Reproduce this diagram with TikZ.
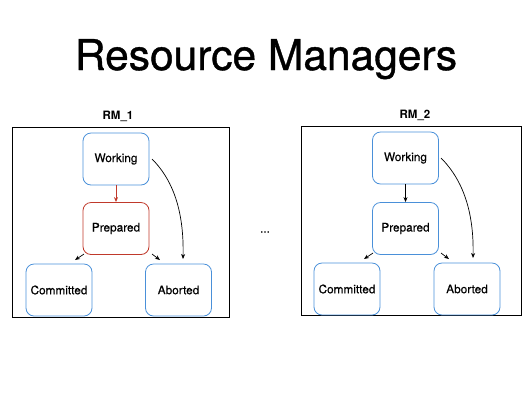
\documentclass[tikz,border=0pt]{standalone}
\usepackage{fontspec}
\setmainfont{TeX Gyre Heros}
\newfontfamily\titlefont[FakeBold=0.9]{TeX Gyre Heros}
\newfontfamily\labelfont[FakeBold=0.4]{TeX Gyre Heros}
\usetikzlibrary{arrows.meta,calc}
\definecolor{stblue}{RGB}{74,144,217}
\definecolor{stred}{RGB}{192,57,43}
\tikzset{
  state/.style={draw=stblue, line width=0.8pt, rounded corners=8pt,
    minimum width=66pt, minimum height=52pt, inner sep=0pt,
    font=\labelfont\fontsize{11.8}{14}\selectfont},
  redstate/.style={state, draw=stred},
  frame/.style={draw=black, line width=0.9pt},
  arr/.style={-{Stealth[length=5pt,width=4pt]}, line width=0.7pt},
  rmlabel/.style={font=\fontsize{11.5}{14}\selectfont\bfseries}
}
\begin{document}
\begin{tikzpicture}[x=1pt,y=-1pt]
\useasboundingbox (0,0) rectangle (532,400);
\node[anchor=base, font=\titlefont\fontsize{42.5}{50}\selectfont] (title) at (266,70) {Resource Managers};

% left RM
\draw[frame] (12,127) rectangle (229,317);
\node[rmlabel] (rm1) at (118,116) {RM\_1};
\node[state] (w1) at (116,159) {Working};
\node[redstate] (p1) at (116,228.5) {Prepared};
\node[state] (c1) at (59,290) {Committed};
\node[state] (a1) at (178.5,290) {Aborted};
\coordinate (pc1s) at (84,254);
\coordinate (pc1e) at (75,260);
\coordinate (pa1s) at (152,254);
\coordinate (pa1e) at (160,260);
\coordinate (wa1s) at (152,159);
\coordinate (wa1e) at (183,259);
\draw[arr, draw=stred, fill=stred] (w1.south) -- (p1.north);
\draw[arr] (pc1s) -- (pc1e);
\draw[arr] (pa1s) -- (pa1e);
\draw[arr] (wa1s) .. controls (175,182) and (184,215) .. (wa1e);

\node[font=\labelfont\fontsize{11.5}{14}\selectfont] (dots) at (265,232) {...};

% right RM
\draw[frame] (301,126) rectangle (521,315);
\node[rmlabel] (rm2) at (415,115) {RM\_2};
\node[state] (w2) at (405.5,158) {Working};
\node[state] (p2) at (405.5,228.5) {Prepared};
\node[state] (c2) at (347,289) {Committed};
\node[state] (a2) at (467,289) {Aborted};
\coordinate (pc2s) at (373,253);
\coordinate (pc2e) at (364,259);
\coordinate (pa2s) at (441,253);
\coordinate (pa2e) at (449,259);
\coordinate (wa2s) at (441,158);
\coordinate (wa2e) at (473,258);
\draw[arr] (w2.south) -- (p2.north);
\draw[arr] (pc2s) -- (pc2e);
\draw[arr] (pa2s) -- (pa2e);
\draw[arr] (wa2s) .. controls (464,181) and (474,214) .. (wa2e);
\end{tikzpicture}
\end{document}
